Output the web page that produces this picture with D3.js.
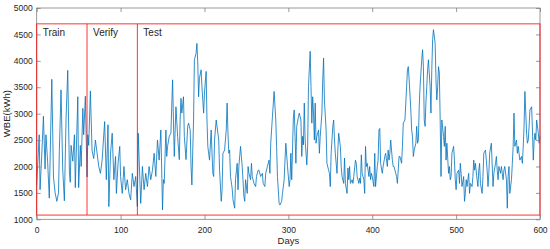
<!DOCTYPE html>
<html>
<head>
<meta charset="utf-8">
<script src="https://cdn.jsdelivr.net/npm/d3@7"></script>
<style>
body { margin: 0; background: #fff; }
text { font-family: "Liberation Sans", Arial, sans-serif; fill: #262626; }
</style>
</head>
<body>
<script>
var days = [0,3,4,6,8,10,11,13,15,18,20,22,24,26,27,29,31,33,35,37,39,40,41,43,45,46,49,50,52,53,55,56,58,60,61,62,64,66,68,70,
  74,76,78,81,83,85,86,88,90,92,94,95,97,99,100,102,104,106,108,110,112,114,116,118,120,121,123,124,126,128,130,132,134,136,138,140,142,144,146,148,
  150,151,152,154,155,156,158,160,162,163,164,166,168,170,171,172,173,175,176,178,180,181,183,184,185,187,188,190,191,192,193,194,196,197,199,200,202,203,204,206,208,209,210,211,212,214,216,217,218,220,221,222,224,
  226,227,228,229,230,231,233,234,236,237,239,240,241,243,244,245,247,248,249,251,252,253,255,256,257,259,261,262,264,265,267,269,270,272,273,275,277,278,279,281,283,285,286,287,289,290,292,293,295,296,297,299,301,302,
  303,304,306,307,308,309,310,312,313,315,316,317,318,319,320,322,323,324,326,327,328,329,330,331,332,333,334,336,337,338,340,341,342,343,345,346,348,349,350,351,353,354,355,356,358,359,360,362,363,364,366,367,368,370,371,372,373,374,376,377,378,380,
  381,382,384,385,386,387,388,390,391,392,393,394,396,397,398,399,400,402,403,404,406,407,408,409,410,412,413,415,416,418,419,420,421,422,424,425,426,428,429,430,432,433,435,436,437,439,440,442,443,444,446,447,448,449,450,452,453,454,455,456,457,
  459,460,461,462,463,464,465,466,467,469,470,471,472,473,475,476,477,478,479,480,481,482,483,485,486,487,488,489,491,492,493,494,495,497,498,499,500,501,503,504,505,506,507,509,510,511,512,513,515,516,517,519,520,521,522,523,525,526,527,528,529,531,532,533,535,536,537,538,539,540,542,
  544,545,547,548,549,550,551,553,554,555,556,557,558,560,561,562,563,564,566,567,568,569,570,572,573,574,575,576,578,579,580,581,582,584,585,586,587,588,590,591,592,593,594,595,596,598,599,600];

var wbe = [1650,2600,1560,2200,2950,1950,2600,2100,1400,3650,1800,1500,1340,1500,2300,3450,1950,1350,2900,3820,1900,1700,2400,2100,2600,1600,3320,1600,2400,2000,3100,2600,3330,1800,2600,2400,3430,2300,2150,2500,
  2000,1870,2120,2850,1750,2790,1240,2250,2630,1750,2190,1490,2060,2380,1810,1490,2000,1560,1750,1490,1370,1870,1620,1810,1240,2630,1750,1300,2000,1560,1870,1620,2000,1750,1930,2250,1810,2500,2120,2690,
  1180,1750,1680,2690,2190,2380,2570,2630,3640,2880,2190,3130,2570,2130,2880,3290,3010,3320,2570,2130,2760,2820,2690,2000,1650,2880,4020,4140,4330,3960,3320,3670,3830,3510,3010,3390,3800,2880,2380,2120,2690,2250,1870,1810,2500,2880,2630,2500,1930,1340,1560,2250,2310,
  2700,3200,2630,2250,2310,1810,1590,1370,1210,1750,2060,1560,2000,2380,2190,2000,1430,1340,1750,1490,2000,1870,1750,2060,1810,1680,1620,1810,1930,1930,1810,1870,1680,1620,1870,2000,2120,1870,2440,2940,3420,2880,2380,1810,1300,1270,1340,1490,1750,2120,2440,2000,1620,1750,
  2250,1750,2940,3070,2570,2060,2760,2940,3010,2880,2190,2570,2410,3200,2500,2030,2380,3510,4180,3510,2820,3320,3010,2500,3200,2440,2570,2690,2250,2570,3010,3640,4050,3260,2690,2060,1930,1870,1620,2250,2760,2880,2500,2250,1870,2310,2630,2380,2000,1810,1680,2160,1680,1490,1970,1750,2000,1680,1750,1680,1810,2120,
  2060,1810,1680,1780,1680,2220,1870,1750,1490,2380,2000,2060,1810,2000,1750,1870,1810,1620,2250,1620,2000,2120,2690,2720,2060,1870,2000,2190,2250,2000,2310,2120,2250,2500,2120,2000,2000,1870,1810,1680,2190,2190,2060,2380,2820,2880,3200,3830,3890,3640,3070,2690,2570,2190,2310,2440,2760,2440,2500,3130,3510,
  4020,4210,3890,2880,2760,3200,3510,3830,4020,3510,3010,3830,4400,4590,4330,3640,3260,3510,3890,3770,2880,1810,2880,2570,2380,2760,2120,2440,1870,2000,1750,1810,2250,2380,2120,1750,1560,1870,1930,1680,2060,1870,1620,1810,1340,1490,1750,1620,1870,1490,1680,1620,1810,2120,1930,2060,1750,1620,1930,2060,1680,1490,1810,2250,2310,2120,1930,1620,1870,2250,2440,
  1620,1870,2060,2190,1930,1750,2000,1870,2000,1870,1750,1930,2000,1750,1210,1810,2000,1490,1750,2060,2380,3010,2380,2500,2250,2380,2250,2120,2190,2060,2380,2760,3420,2630,2440,2500,2760,3070,3130,2690,2120,2500,2630,2500,2880,2630,2440,2570];

var xTicks = [0, 100, 200, 300, 400, 500, 600];
var yTicks = [1000, 1500, 2000, 2500, 3000, 3500, 4000, 4500, 5000];
var phaseStarts = [0, 60, 120];
var phaseNames = ["Train", "Verify", "Test"];
var phaseBand = [1080, 4700];

var width = 550, height = 249;
var margin = {top: 8, right: 10, bottom: 30, left: 36.7};

var svg = d3.select("body").append("svg")
    .attr("width", width)
    .attr("height", height);

var x = d3.scaleLinear().domain([0, 600]).range([margin.left, width - margin.right]);
var y = d3.scaleLinear().domain([1000, 5000]).range([height - margin.bottom + 0.3, margin.top]);

var axisColor = "#808080";

// series line
var points = days.map(function(d, i) { return [d, wbe[i]]; });
svg.append("path")
    .datum(points)
    .attr("fill", "none")
    .attr("stroke", "#0072BD")
    .attr("stroke-width", 0.8)
    .attr("stroke-linejoin", "round")
    .attr("d", d3.line().x(function(d) { return x(d[0]); }).y(function(d) { return y(d[1]); }));

// axes box
svg.append("rect")
    .attr("x", x(0)).attr("y", y(5000))
    .attr("width", x(600) - x(0)).attr("height", y(1000) - y(5000))
    .attr("fill", "none").attr("stroke", axisColor).attr("stroke-width", 0.8);

function styleAxis(g) {
  g.select(".domain").remove();
  g.selectAll(".tick line").attr("stroke", axisColor).attr("stroke-width", 0.8);
  g.selectAll(".tick text").attr("font-size", 8.5).attr("fill", "#262626")
    .style("font-family", "'Liberation Sans', Arial, sans-serif");
}

svg.append("g")
    .attr("transform", "translate(0," + y(1000) + ")")
    .call(d3.axisBottom(x).tickValues(xTicks).tickFormat(d3.format("d")).tickSizeInner(-4).tickSizeOuter(0).tickPadding(8))
    .call(styleAxis);
svg.append("g")
    .attr("transform", "translate(0," + y(5000) + ")")
    .call(d3.axisTop(x).tickValues(xTicks).tickSizeInner(-4).tickSizeOuter(0).tickFormat(""))
    .call(styleAxis);
svg.append("g")
    .attr("transform", "translate(" + x(0) + ",0)")
    .call(d3.axisLeft(y).tickValues(yTicks).tickFormat(d3.format("d")).tickSizeInner(-4).tickSizeOuter(0).tickPadding(4))
    .call(styleAxis);
svg.append("g")
    .attr("transform", "translate(" + x(600) + ",0)")
    .call(d3.axisRight(y).tickValues(yTicks).tickSizeInner(-4).tickSizeOuter(0).tickFormat(""))
    .call(styleAxis);

// red phase frame
svg.append("rect")
    .attr("x", x(0)).attr("y", y(phaseBand[1]))
    .attr("width", x(600) - x(0)).attr("height", y(phaseBand[0]) - y(phaseBand[1]))
    .attr("fill", "none").attr("stroke", "#FF0000").attr("stroke-width", 1).attr("stroke-opacity", 0.8);

svg.selectAll(".split")
    .data(phaseStarts.slice(1))
    .enter().append("line")
    .attr("class", "split")
    .attr("x1", function(d) { return x(d); }).attr("x2", function(d) { return x(d); })
    .attr("y1", y(phaseBand[0])).attr("y2", y(phaseBand[1]))
    .attr("stroke", "#FF0000").attr("stroke-width", 1).attr("stroke-opacity", 0.8);

svg.selectAll(".phase")
    .data(phaseNames)
    .enter().append("text")
    .attr("class", "phase")
    .attr("x", function(d, i) { return x(phaseStarts[i]) + 6; })
    .attr("y", y(phaseBand[1]) + 12)
    .attr("font-size", 10)
    .text(function(d) { return d; });

// axis titles
svg.append("text")
    .attr("x", (x(0) + x(600)) / 2)
    .attr("y", height - 5)
    .attr("text-anchor", "middle")
    .attr("font-size", 9.5)
    .text("Days");

svg.append("text")
    .attr("transform", "translate(10," + (y(3000)) + ") rotate(-90)")
    .attr("text-anchor", "middle")
    .attr("font-size", 9.5)
    .text("WBE(kWh)");
</script>
</body>
</html>
